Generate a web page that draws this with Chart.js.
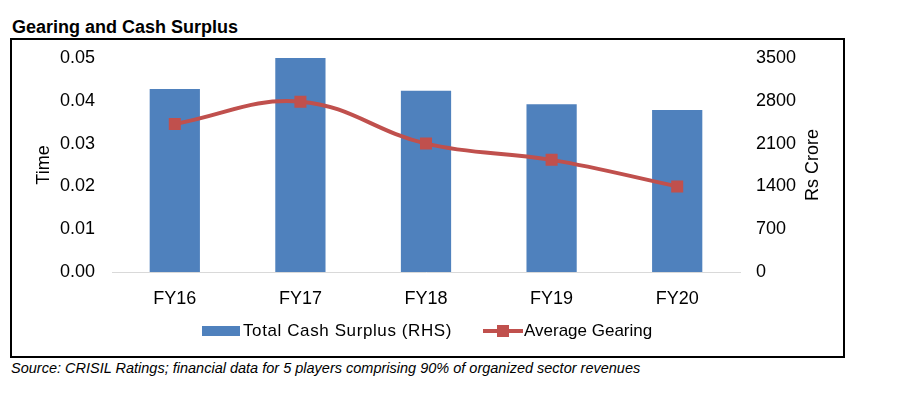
<!DOCTYPE html>
<html><head><meta charset="utf-8">
<script src="https://cdn.jsdelivr.net/npm/chart.js@4"></script>
<style>
html,body{margin:0;padding:0;background:#fff;}
body{width:899px;height:393px;position:relative;overflow:hidden;font-family:"Liberation Sans",Arial,sans-serif;color:#000;}
#title{position:absolute;left:12px;top:17px;font-weight:bold;font-size:18px;line-height:20px;white-space:nowrap;}
#box{position:absolute;left:10px;top:38px;width:835px;height:320px;border:2px solid #000;box-sizing:border-box;}
#wrap{position:absolute;left:12px;top:40px;width:831px;height:316px;}
.leg{position:absolute;top:320px;height:22px;font-size:17px;line-height:22px;white-space:nowrap;}
.sw{position:absolute;top:6px;left:0;width:38px;height:10px;}
.ln{position:absolute;top:9px;left:0;width:40px;height:4px;}
.mk{position:absolute;top:5px;left:14px;width:12px;height:12px;}
.lt{position:absolute;left:41px;top:0;}
#source{position:absolute;left:11px;top:359px;font-style:italic;font-size:14.5px;line-height:18px;white-space:nowrap;}
</style></head>
<body>
<div id="title">Gearing and Cash Surplus</div>
<div id="box"></div>
<div id="wrap"><canvas id="c" width="831" height="316"></canvas></div>
<div class="leg" id="leg1" style="left:202px"><div class="sw"></div><span class="lt" style="letter-spacing:0.6px"></span></div>
<div class="leg" id="leg2" style="left:483px"><div class="ln"></div><div class="mk"></div><span class="lt"></span></div>
<div id="source">Source: CRISIL Ratings; financial data for 5 players comprising 90% of organized sector revenues</div>
<script>
const categories = ['FY16', 'FY17', 'FY18', 'FY19', 'FY20'];
const cashSurplus = [2995, 3500, 2965, 2745, 2650];
const avgGearing = [0.0346, 0.0398, 0.0300, 0.0262, 0.0200];
const leftTicks = [0, 0.01, 0.02, 0.03, 0.04, 0.05];
const rightTicks = [0, 700, 1400, 2100, 2800, 3500];
const barLabel = 'Total Cash Surplus (RHS)';
const lineLabel = 'Average Gearing';
const leftTitle = 'Time';
const rightTitle = 'Rs Crore';

const BLUE = '#4F81BD', RED = '#C0504D';
const FAMILY = '"Liberation Sans", Arial, sans-serif';
const tickFont = {family: FAMILY, size: 18};

// right-axis title reads bottom-to-top, like the left one
const rightTitlePlugin = {
  id: 'rightTitle',
  afterDraw(chart) {
    const s = chart.scales.yR, ctx = chart.ctx;
    ctx.save();
    ctx.translate(s.right - 30, (s.top + s.bottom) / 2);
    ctx.rotate(-Math.PI / 2);
    ctx.font = '18px ' + FAMILY;
    ctx.fillStyle = '#000';
    ctx.textAlign = 'center';
    ctx.textBaseline = 'middle';
    ctx.fillText(rightTitle, 0, 0);
    ctx.restore();
  }
};

const chart = new Chart(document.getElementById('c'), {
  data: {
    labels: categories,
    datasets: [
      {type: 'line', label: lineLabel, data: avgGearing, yAxisID: 'yL', order: 0,
       borderColor: RED, borderWidth: 4, tension: 0.4,
       pointStyle: 'rect', pointRadius: 8.5, pointBackgroundColor: RED, pointBorderColor: RED, pointBorderWidth: 0},
      {type: 'bar', label: barLabel, data: cashSurplus, yAxisID: 'yR', order: 1,
       backgroundColor: BLUE, categoryPercentage: 1, barPercentage: 0.4}
    ]
  },
  options: {
    responsive: false, animation: false, devicePixelRatio: 1,
    layout: {padding: {top: 18, left: 0, right: 0, bottom: 0}},
    plugins: {legend: {display: false}, tooltip: {enabled: false}},
    scales: {
      x: {
        grid: {display: false}, border: {display: true, color: '#D9D9D9', width: 1},
        ticks: {font: tickFont, color: '#000', padding: 8},
        afterFit: s => { s.height = 84; s.paddingLeft = 0; s.paddingRight = 0; }
      },
      yL: {
        position: 'left', min: 0, max: 0.05,
        grid: {display: false}, border: {display: false},
        afterBuildTicks: s => { s.ticks = leftTicks.map(v => ({value: v})); },
        ticks: {font: tickFont, color: '#000', padding: 9, callback: v => v.toFixed(2)},
        title: {display: true, text: leftTitle, font: tickFont, color: '#000', padding: {top: 21, bottom: 0}},
        afterFit: s => { s.width = 100; s.paddingTop = 0; s.paddingBottom = 0; }
      },
      yR: {
        position: 'right', min: 0, max: 3500,
        grid: {display: false}, border: {display: false},
        afterBuildTicks: s => { s.ticks = rightTicks.map(v => ({value: v})); },
        ticks: {font: tickFont, color: '#000', padding: 8, callback: v => String(v)},
        afterFit: s => { s.width = 103; s.paddingTop = 0; s.paddingBottom = 0; }
      }
    }
  },
  plugins: [rightTitlePlugin]
});

// legend built from the chart's datasets
const bar = chart.data.datasets.find(d => d.type === 'bar');
const line = chart.data.datasets.find(d => d.type === 'line');
const l1 = document.getElementById('leg1');
l1.querySelector('.sw').style.background = bar.backgroundColor;
l1.querySelector('.lt').textContent = bar.label;
const l2 = document.getElementById('leg2');
l2.querySelector('.ln').style.background = line.borderColor;
l2.querySelector('.mk').style.background = line.pointBackgroundColor;
l2.querySelector('.lt').textContent = line.label;
</script>
</body></html>
